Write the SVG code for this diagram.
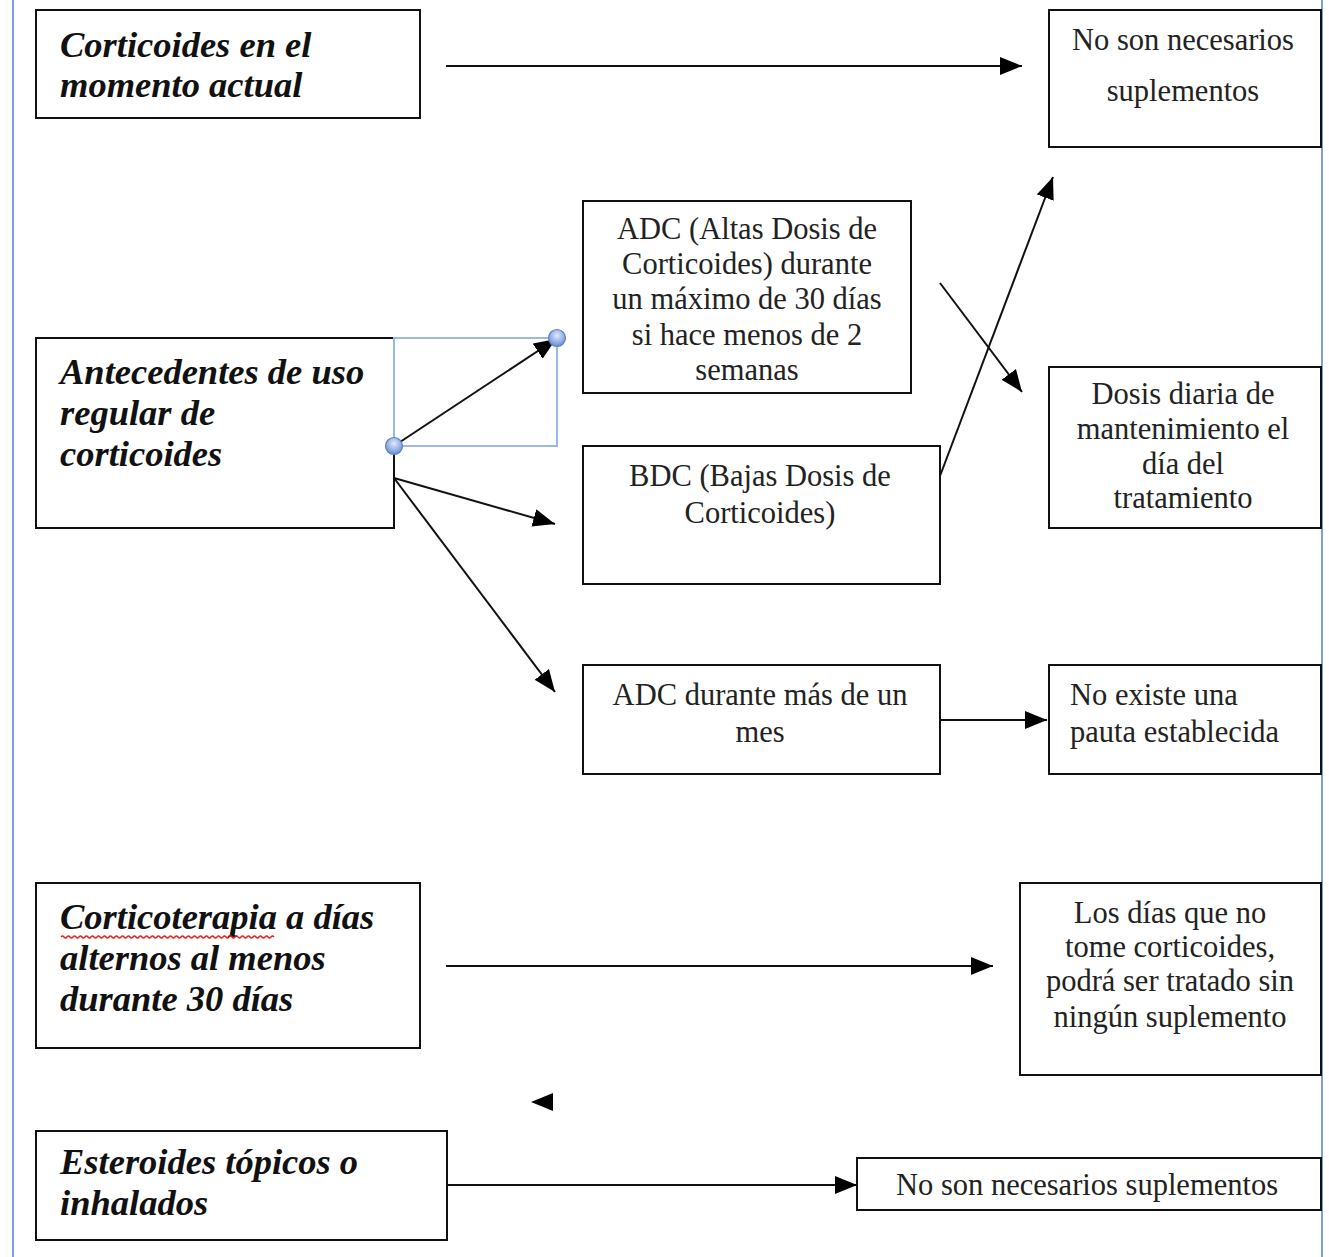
<svg xmlns="http://www.w3.org/2000/svg" width="1329" height="1257" viewBox="0 0 1329 1257">
<style>
.box{fill:#fff;stroke:#111;stroke-width:2}
.bi{font-family:"Liberation Serif",serif;font-weight:bold;font-style:italic;font-size:36.5px;fill:#111}
.rg{font-family:"Liberation Serif",serif;font-size:30.5px;fill:#222}
.c{text-anchor:middle}
.ln{stroke:#111;stroke-width:2;fill:none}
.margin{stroke:#7f9fd4;stroke-width:2}
</style>
<defs>
<marker id="ah" markerUnits="userSpaceOnUse" markerWidth="24" markerHeight="20" refX="22" refY="9" orient="auto">
<path d="M0,0 L22,9 L0,18 z" fill="#000"/>
</marker>
<radialGradient id="hg" cx="0.5" cy="0.35" r="0.6">
<stop offset="0" stop-color="#dfe9fb"/>
<stop offset="1" stop-color="#6f93d6"/>
</radialGradient>
</defs>
<rect width="1329" height="1257" fill="#fff"/>
<line class="margin" x1="13" y1="0" x2="13" y2="1257"/>
<line class="margin" x1="1322" y1="0" x2="1322" y2="1257"/>

<g id="n1"><rect class="box" x="36" y="10" width="384" height="108"/>
<text class="bi" x="60" y="57">Corticoides en el</text>
<text class="bi" x="60" y="97">momento actual</text></g>

<g id="n2"><rect class="box" x="1049" y="10" width="272" height="137"/>
<text class="rg c" x="1183" y="50">No son necesarios</text>
<text class="rg c" x="1183" y="101">suplementos</text></g>

<g id="n3"><rect class="box" x="36" y="338" width="358" height="190"/>
<text class="bi" x="60" y="384">Antecedentes de uso</text>
<text class="bi" x="60" y="425">regular de</text>
<text class="bi" x="60" y="466">corticoides</text></g>

<g id="n4"><rect class="box" x="583" y="201" width="328" height="192"/>
<text class="rg c" x="747" y="239">ADC (Altas Dosis de</text>
<text class="rg c" x="747" y="274">Corticoides) durante</text>
<text class="rg c" x="747" y="309">un máximo de 30 días</text>
<text class="rg c" x="747" y="345">si hace menos de 2</text>
<text class="rg c" x="747" y="380">semanas</text></g>

<g id="n5"><rect class="box" x="583" y="446" width="357" height="138"/>
<text class="rg c" x="760" y="486">BDC (Bajas Dosis de</text>
<text class="rg c" x="760" y="523">Corticoides)</text></g>

<g id="n6"><rect class="box" x="583" y="665" width="357" height="109"/>
<text class="rg c" x="760" y="705">ADC durante más de un</text>
<text class="rg c" x="760" y="742">mes</text></g>

<g id="n7"><rect class="box" x="1049" y="367" width="272" height="161"/>
<text class="rg c" x="1183" y="404">Dosis diaria de</text>
<text class="rg c" x="1183" y="439">mantenimiento el</text>
<text class="rg c" x="1183" y="474">día del</text>
<text class="rg c" x="1183" y="508">tratamiento</text></g>

<g id="n8"><rect class="box" x="1049" y="665" width="272" height="109"/>
<text class="rg" x="1070" y="705">No existe una</text>
<text class="rg" x="1070" y="742">pauta establecida</text></g>

<g id="n9"><rect class="box" x="36" y="883" width="384" height="165"/>
<text class="bi" x="60" y="929">Corticoterapia a días</text>
<text class="bi" x="60" y="970">alternos al menos</text>
<text class="bi" x="60" y="1011">durante 30 días</text>
<path d="M61,937 q1.5,-2 3,0 t3,0 t3,0 t3,0 t3,0 t3,0 t3,0 t3,0 t3,0 t3,0 t3,0 t3,0 t3,0 t3,0 t3,0 t3,0 t3,0 t3,0 t3,0 t3,0 t3,0 t3,0 t3,0 t3,0 t3,0 t3,0 t3,0 t3,0 t3,0 t3,0 t3,0 t3,0 t3,0 t3,0 t3,0 t3,0 t3,0 t3,0 t3,0 t3,0 t3,0 t3,0 t3,0 t3,0 t3,0 t3,0 t3,0 t3,0 t3,0 t3,0 t3,0 t3,0 t3,0 t3,0 t3,0 t3,0 t3,0 t3,0 t3,0 t3,0 t3,0 t3,0 t3,0 t3,0 t3,0 t3,0 t3,0 t3,0 t3,0 t3,0 t3,0" fill="none" stroke="#e02020" stroke-width="1.3"/></g>

<g id="n10"><rect class="box" x="1020" y="883" width="301" height="192"/>
<text class="rg c" x="1170" y="923">Los días que no</text>
<text class="rg c" x="1170" y="957">tome corticoides,</text>
<text class="rg c" x="1170" y="991">podrá ser tratado sin</text>
<text class="rg c" x="1170" y="1027">ningún suplemento</text></g>

<g id="n11"><rect class="box" x="36" y="1131" width="411" height="109"/>
<text class="bi" x="60" y="1174">Esteroides tópicos o</text>
<text class="bi" x="60" y="1215">inhalados</text></g>

<g id="n12"><rect class="box" x="857" y="1158" width="464" height="52"/>
<text class="rg c" x="1087" y="1195">No son necesarios suplementos</text></g>

<g id="connectors">
<line class="ln" x1="446" y1="66" x2="1022" y2="66" marker-end="url(#ah)"/>
<rect x="394" y="338" width="163" height="108" fill="none" stroke="#9ab8e8" stroke-width="2"/>
<line class="ln" x1="394" y1="446" x2="556" y2="339" marker-end="url(#ah)"/>
<line class="ln" x1="394" y1="478" x2="555" y2="524" marker-end="url(#ah)"/>
<line class="ln" x1="394" y1="478" x2="555" y2="692" marker-end="url(#ah)"/>
<line class="ln" x1="940" y1="476" x2="1053" y2="177" marker-end="url(#ah)"/>
<line class="ln" x1="940" y1="283" x2="1022" y2="392" marker-end="url(#ah)"/>
<line class="ln" x1="940" y1="720" x2="1047" y2="720" marker-end="url(#ah)"/>
<line class="ln" x1="446" y1="966" x2="993" y2="966" marker-end="url(#ah)"/>
<path d="M531,1102 L553,1093 L553,1111 z" fill="#000"/>
<line class="ln" x1="447" y1="1185" x2="857" y2="1185" marker-end="url(#ah)"/>
<circle cx="394" cy="446" r="8.5" fill="url(#hg)" stroke="#5b7fc8" stroke-width="1.2"/>
<circle cx="557" cy="338" r="8.5" fill="url(#hg)" stroke="#5b7fc8" stroke-width="1.2"/>
</g>
</svg>
